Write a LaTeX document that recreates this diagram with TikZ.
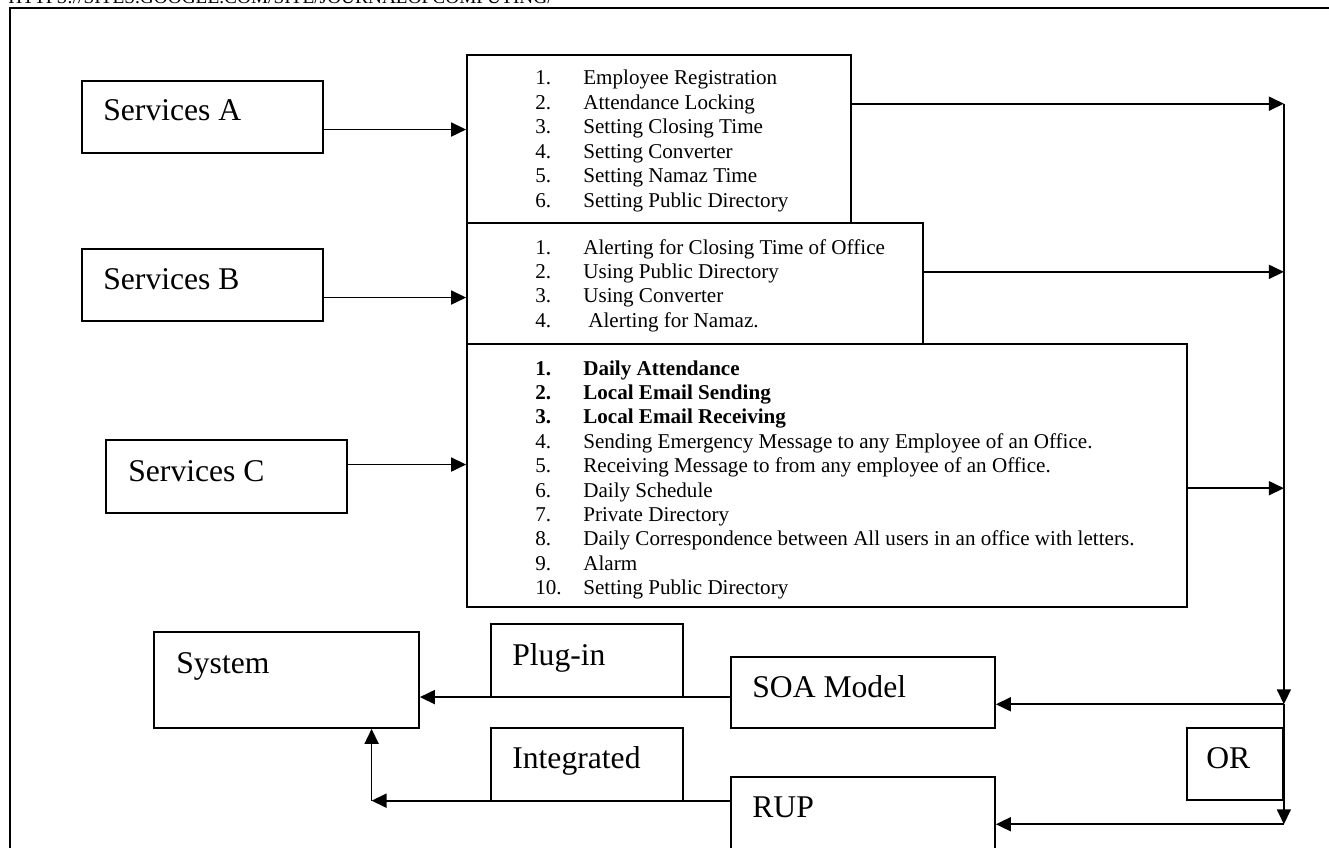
\documentclass[tikz,border=0pt]{standalone}
\usepackage{fontspec}
\setmainfont{Liberation Serif}
\usetikzlibrary{arrows.meta,calc,fit}
\newcommand\itm[2]{\makebox[0.96cm][l]{#1}#2}

\begin{document}
\begin{tikzpicture}[x=0.02cm,y=-0.02cm,
	box/.style={draw,line width=1pt,inner sep=0pt},
	big/.style={anchor=base west,inner sep=0pt,font=\fontsize{18}{21}\selectfont},
	list/.style={anchor=base west,inner sep=0pt,font=\fontsize{12}{13.9}\selectfont},
	arr/.style={line width=1pt,-{Triangle[length=0.3cm,width=0.28cm]}},
	ln/.style={line width=1pt}]
	\useasboundingbox (0,0) rectangle (1329,848);
	% header line and frame
	\node[anchor=base west,inner sep=0pt,font=\fontsize{11}{13}\selectfont] (hdr) at (8,3.5) {HTTPS://SITES.GOOGLE.COM/SITE/JOURNALOFCOMPUTING/};
	\draw[ln] (10,855) -- (10,8) -- (1335,8);
	
	% boxes
	\node[box,fit={(82,81)(323,153)}] (srvA) {};
	\node[box,fit={(82,249)(323,321)}] (srvB) {};
	\node[box,fit={(106,440)(347,513)}] (srvC) {};
	\node[box,fit={(467,55)(851,223)}] (lstA) {};
	\node[box,fit={(467,223)(923,344)}] (lstB) {};
	\node[box,fit={(467,344)(1187,607)}] (lstC) {};
	\node[box,fit={(154,632)(419,728)}] (sys) {};
	\node[box,fit={(491,624)(683,697)}] (plug) {};
	\node[box,fit={(491,728)(683,801)}] (integ) {};
	\node[box,fit={(731,657)(995,728)}] (soa) {};
	\node[box,fit={(731,777)(995,852)}] (rup) {};
	\node[box,fit={(1187,728)(1283,800)}] (orbox) {};
	
	% texts
	\node[big] (srvA-t) at (103,121) {Services A};
	\node[big] (srvB-t) at (103,289) {Services B};
	\node[big] (srvC-t) at (128,481) {Services C};
	\node[big] (sys-t) at (176,673) {System};
	\node[big] (plug-t) at (512,665) {Plug-in};
	\node[big] (integ-t) at (512,768) {Integrated};
	\node[big] (soa-t) at (752,697) {SOA Model};
	\node[big] (rup-t) at (752,817) {RUP};
	\node[big] (orbox-t) at (1206,768) {OR};
	
	\node[list] (lstA-t) at (535,85) {\begin{tabular}[t]{@{}l@{}}
		\itm{1.}{Employee Registration}\\
		\itm{2.}{Attendance Locking}\\
		\itm{3.}{Setting Closing Time}\\
		\itm{4.}{Setting Converter}\\
		\itm{5.}{Setting Namaz Time}\\
		\itm{6.}{Setting Public Directory}
	\end{tabular}};
	\node[list] (lstB-t) at (535,254) {\begin{tabular}[t]{@{}l@{}}
		\itm{1.}{Alerting for Closing Time of Office}\\
		\itm{2.}{Using Public Directory}\\
		\itm{3.}{Using Converter}\\
		\itm{4.}{\hspace{0.1cm}Alerting for Namaz.}
	\end{tabular}};
	\node[list] (lstC-t) at (535,375) {\begin{tabular}[t]{@{}l@{}}
		\itm{\textbf{1.}}{\textbf{Daily Attendance}}\\
		\itm{\textbf{2.}}{\textbf{Local Email Sending}}\\
		\itm{\textbf{3.}}{\textbf{Local Email Receiving}}\\
		\itm{4.}{Sending Emergency Message to any Employee of an Office.}\\
		\itm{5.}{Receiving Message to from any employee of an Office.}\\
		\itm{6.}{Daily Schedule}\\
		\itm{7.}{Private Directory}\\
		\itm{8.}{Daily Correspondence between All users in an office with letters.}\\
		\itm{9.}{Alarm}\\
		\itm{10.}{Setting Public Directory}
	\end{tabular}};
	
	% services to lists
	\coordinate (a1) at ($(srvA.south east)!.33!(srvA.north east)$);
	\coordinate (b1) at ($(srvB.south east)!.33!(srvB.north east)$);
	\coordinate (c1) at ($(srvC.south east)!.66!(srvC.north east)$);
	\draw[arr] (a1) -- (a1 -| lstA.west);
	\draw[arr] (b1) -- (b1 -| lstB.west);
	\draw[arr] (c1) -- (c1 -| lstC.west);
	
	% lists to the bus
	\coordinate (d1) at ($(lstA.south east)!.708!(lstA.north east)$);
	\coordinate (d2) at ($(lstB.south east)!.595!(lstB.north east)$);
	\coordinate (d3) at ($(lstC.south east)!.452!(lstC.north east)$);
	\draw[arr] (d1) -- (d1 -| orbox.east);
	\draw[arr] (d2) -- (d2 -| orbox.east);
	\draw[arr] (d3) -- (d3 -| orbox.east);
	
	% bus down to SOA and RUP
	\coordinate (s1) at ($(soa.south east)!.338!(soa.north east)$);
	\coordinate (r1) at ($(rup.south east)!.373!(rup.north east)$);
	\draw[arr] (d1 -| orbox.east) -- (s1 -| orbox.east);
	\draw[arr] (s1 -| orbox.east) -- (r1 -| orbox.east);
	\draw[arr] (s1 -| orbox.east) -- (s1);
	\draw[arr] (r1 -| orbox.east) -- (r1);
	
	% to the system
	\coordinate (s2) at ($(soa.south west)!.437!(soa.north west)$);
	\coordinate (r2) at ($(rup.south west)!.68!(rup.north west)$);
	\coordinate (u1) at ($(sys.south west)!.819!(sys.south east)$);
	\draw[arr] (s2) -- (s2 -| sys.east);
	\draw[arr] (r2) -- (r2 -| u1);
	\draw[arr] (r2 -| u1) -- (u1);
\end{tikzpicture}
\end{document}
